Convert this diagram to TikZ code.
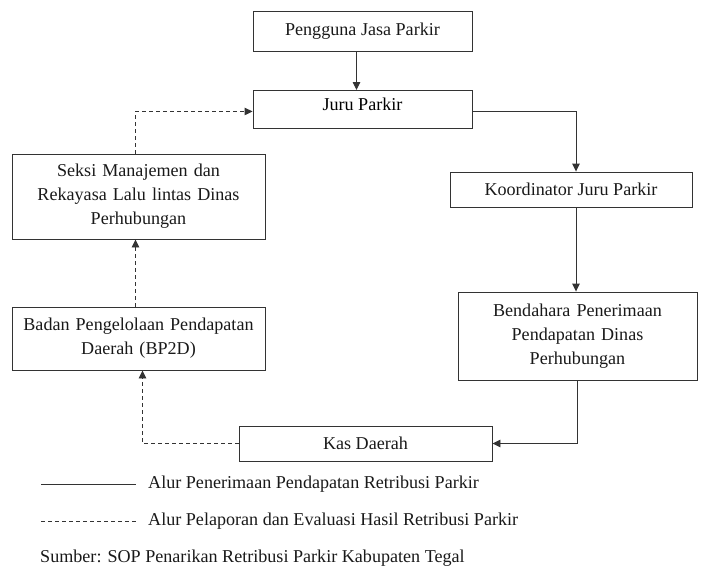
\documentclass[tikz,border=0pt]{standalone}
\usepackage{fontspec}
\setmainfont{Liberation Serif}
\usetikzlibrary{arrows.meta}
\begin{document}
\begin{tikzpicture}[x=1pt,y=-1pt,
  font=\fontsize{18.1}{24}\selectfont,
  box/.style={draw=black!80, line width=0.9pt, align=center, inner sep=0pt, text=black!90},
  flow/.style={draw=black!80, line width=0.9pt},
  tip/.style={-{Triangle[length=8pt,width=7.5pt]}},
  arr/.style={flow, tip},
  dsh/.style={flow, dash pattern=on 4pt off 3pt},
  lbl/.style={anchor=west, inner sep=0pt, text=black!90}]
\useasboundingbox (0,0) rectangle (715,571);
\node[box, minimum width=219pt, minimum height=40pt] (peng) at (362.5,31) {Pengguna Jasa Parkir};
\node[box, minimum width=219pt, minimum height=38pt, anchor=north] (juru) at (362.5,90) {};
\node at (362.5,104) {Juru Parkir};
\node[box, minimum width=253pt, minimum height=85pt, text width=250pt] (seksi) at (138.5,196.5) {Seksi Manajemen dan\\Rekayasa Lalu lintas Dinas\\Perhubungan};
\node[box, minimum width=242pt, minimum height=35pt] (koord) at (571,189.5) {Koordinator Juru Parkir};
\node[box, minimum width=239pt, minimum height=88pt, text width=236pt] (bend) at (577.5,336) {Bendahara Penerimaan\\Pendapatan Dinas\\Perhubungan\\[2pt]};
\node[box, minimum width=253pt, minimum height=63pt, text width=250pt] (badan) at (138.5,338.5) {Badan Pengelolaan Pendapatan\\Daerah (BP2D)\\[4pt]};
\node[box, minimum width=253pt, minimum height=35pt] (kas) at (365.5,443.5) {Kas Daerah};
% solid flow
\draw[arr] ([xshift=-6pt]peng.south) -- ([xshift=-6pt]juru.north);
\draw[arr] ([yshift=-2pt]juru.east) -| ([xshift=5pt]koord.north);
\draw[arr] ([xshift=5pt]koord.south) -- ([xshift=5pt]koord.south |- bend.north);
\draw[arr] (bend.south) |- (kas.east);
% dashed flow
\draw[dsh, tip] (kas.west) -| ([xshift=4pt]badan.south);
\draw[dsh, tip] ([xshift=-3pt]badan.north) -- ([xshift=-3pt]seksi.south);
\draw[dsh, tip] ([xshift=-3pt]seksi.north) |- ([yshift=-2pt]juru.west);
% legend
\coordinate (l1a) at (41,484);
\coordinate (l1b) at (136,484);
\coordinate (l2a) at (41,521);
\coordinate (l2b) at (136,521);
\draw[flow, line width=0.8pt] (l1a) -- (l1b);
\draw[flow, line width=0.8pt, dash pattern=on 4pt off 3pt] (l2a) -- (l2b);
\node[lbl] (t1) at (148,484) {Alur Penerimaan Pendapatan Retribusi Parkir};
\node[lbl] (t2) at (148,521) {Alur Pelaporan dan Evaluasi Hasil Retribusi Parkir};
\node[lbl] (t3) at (40,558) {Sumber: SOP Penarikan Retribusi Parkir Kabupaten Tegal};
\end{tikzpicture}
\end{document}
